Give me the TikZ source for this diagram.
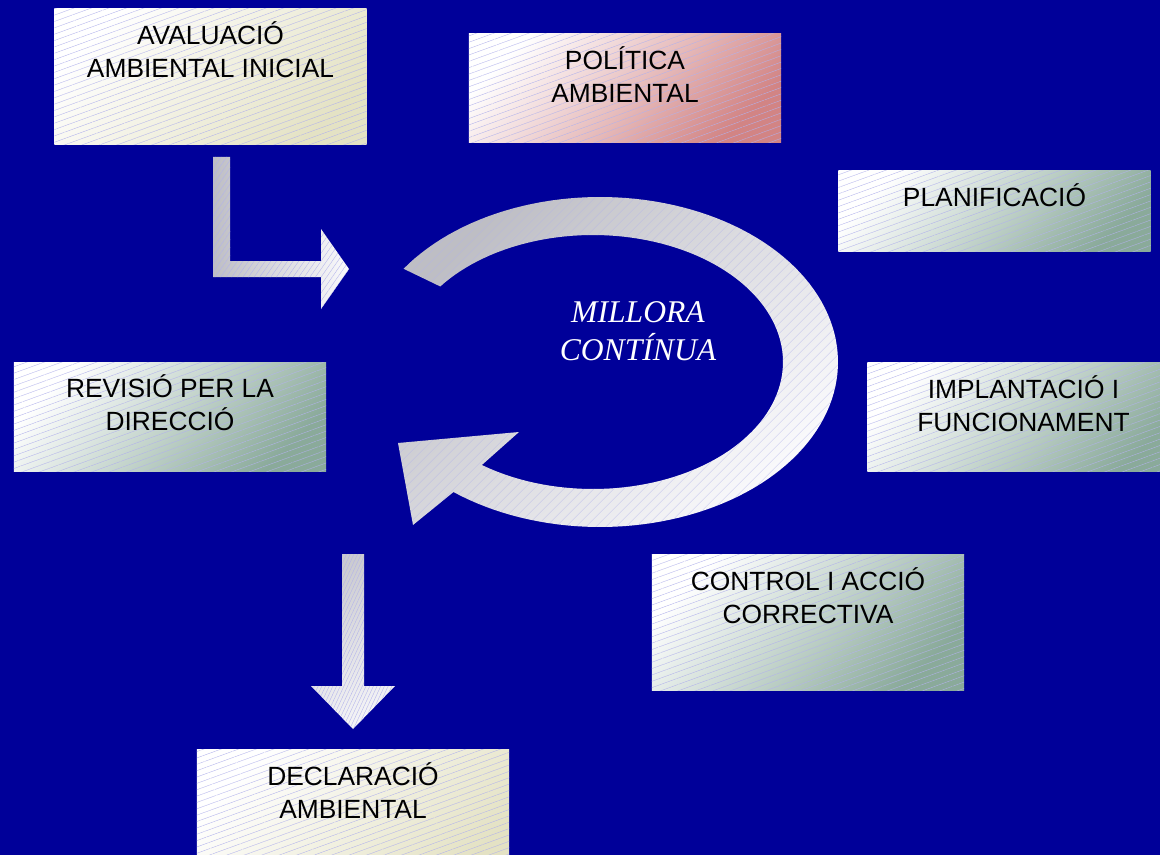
\documentclass[tikz,border=0pt]{standalone}
\usepackage{fontspec}
\setmainfont{Liberation Sans}
\newfontfamily\tmsfont{Liberation Serif}
\usetikzlibrary{patterns.meta}
\definecolor{bg}{RGB}{0,0,153}
\definecolor{beige}{RGB}{228,226,196}
\definecolor{rose}{RGB}{210,132,132}
\definecolor{sage}{RGB}{138,170,154}
\definecolor{hatch}{RGB}{178,178,236}
\definecolor{arrgrey}{RGB}{190,190,196}
\definecolor{arrlight}{RGB}{250,250,252}
\begin{document}
\begin{tikzpicture}[x=0.02cm,y=-0.02cm,
  boxshape/.style={rectangle, minimum width=6.25cm, inner sep=0pt, outer sep=0pt,
    top color=white, bottom color=#1, shading angle=45,
    postaction={pattern={Lines[angle=20,distance=3.4pt,line width=0.2pt]}, pattern color=hatch}},
  boxtext/.style={anchor=north, align=center, inner sep=0pt, text=black,
    font=\fontsize{15}{18.7}\selectfont},
  bigarrow/.style={top color=arrgrey, bottom color=arrlight, shading angle=45,
    postaction={pattern={Lines[angle=45,distance=4pt,line width=0.2pt]}, pattern color=hatch}},
  bentarrow/.style={left color=arrgrey, right color=arrlight,
    postaction={pattern={Lines[angle=55,distance=2.6pt,line width=0.2pt]}, pattern color=hatch}},
  downarrow/.style={top color=arrgrey!80!white, bottom color=arrlight!90!arrgrey, shading angle=30,
    postaction={pattern={Lines[angle=65,distance=1.9pt,line width=0.2pt]}, pattern color=hatch}}
]
\useasboundingbox (0,0) rectangle (1160,855);
\clip (0,0) rectangle (1160,855);
\fill[bg] (0,0) rectangle (1160,855);

% boxes
\node[boxshape=beige, minimum height=2.74cm] (ava) at (210.5,76.5) {};
\node[boxshape=rose,  minimum height=2.2cm]  (pol) at (625,88) {};
\node[boxshape=sage,  minimum height=1.64cm] (pla) at (994.5,211) {};
\node[boxshape=sage,  minimum height=2.2cm]  (imp) at (1023.5,417) {};
\node[boxshape=sage,  minimum height=2.2cm]  (rev) at (170,417) {};
\node[boxshape=sage,  minimum height=2.74cm] (con) at (808,622.5) {};
\node[boxshape=beige, minimum height=2.74cm] (dec) at (353,817.5) {};

% texts
\node[boxtext] (avat) at (210.5,21) {AVALUACIÓ\\AMBIENTAL INICIAL};
\node[boxtext] (polt) at (625,46) {POLÍTICA\\AMBIENTAL};
\node[boxtext] (plat) at (994.5,183) {PLANIFICACIÓ};
\node[boxtext] (impt) at (1023.5,375) {IMPLANTACIÓ I\\FUNCIONAMENT};
\node[boxtext] (revt) at (170,374) {REVISIÓ PER LA\\DIRECCIÓ};
\node[boxtext] (cont) at (808,567) {CONTROL I ACCIÓ\\CORRECTIVA};
\node[boxtext] (dect) at (353,762) {DECLARACIÓ\\AMBIENTAL};

% circular arrow
\path[bigarrow] plot[domain=214.4:488, samples=120] ({600+238*cos(\x)},{362+165*sin(\x)})
  -- (413,525) -- (398,443) -- (519,432)
  -- plot[domain=485.8:216.5, samples=120] ({593+190*cos(\x)},{362+127*sin(\x)})
  -- cycle;

\node[anchor=north, align=center, inner sep=0pt, text=white,
  font=\tmsfont\itshape\fontsize{18}{21.5}\selectfont] (mil) at (638,301) {MILLORA\\CONTÍNUA};

% bent arrow
\path[bentarrow] (213,157) -- (230,157) -- (230,261) -- (321,261) -- (321,229) -- (349,269)
  -- (321,309) -- (321,277) -- (213,277) -- cycle;

% down arrow
\path[downarrow] (342,554) -- (364,554) -- (364,686) -- (395,686) -- (353,729) -- (311,686)
  -- (342,686) -- cycle;
\end{tikzpicture}
\end{document}
